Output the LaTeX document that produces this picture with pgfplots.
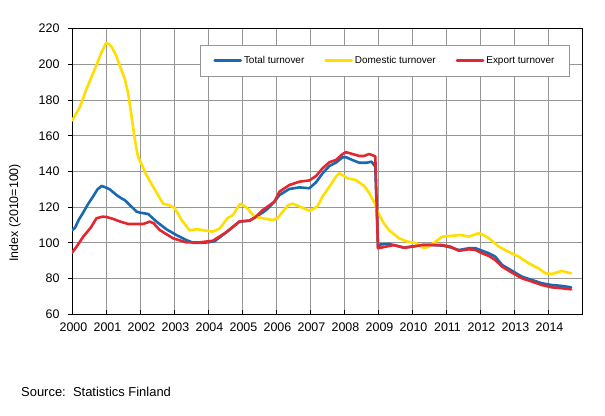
\documentclass[border=0pt]{standalone}
\usepackage{pgfplots}
\pgfplotsset{compat=1.18}
\usepackage{fontspec}
\setmainfont{Liberation Sans}

\definecolor{totalblue}{RGB}{24,104,178}
\definecolor{domyellow}{RGB}{255,222,0}
\definecolor{expred}{RGB}{225,40,48}
\definecolor{gridgray}{RGB}{150,150,150}

\begin{document}
\begin{tikzpicture}
\useasboundingbox (0,0) rectangle (605bp,416bp);

\begin{axis}[
at={(72bp,101.7bp)},
anchor=south west,
scale only axis,
width=510bp,
height=285.6bp,
xmin=2000, xmax=2015,
ymin=60, ymax=220,
xtick={2000,2001,...,2014},
ytick={60,80,...,220},
xmajorgrids,
ymajorgrids,
grid style={gridgray, line width=0.8bp},
axis line style={black, line width=0.8bp},
xtick pos=bottom,
ytick pos=left,
xtick align=inside,
ytick align=outside,
major tick length=4bp,
tick style={black, line width=0.8bp},
/pgf/number format/1000 sep={},
/pgf/number format/assume math mode=true,
tick label style={font=\fontsize{12.5}{14}\selectfont},
xticklabel style={yshift=-5bp, xshift=1.5bp},
yticklabel style={xshift=-5bp},
ylabel={Index (2010=100)},
ylabel style={at={(axis description cs:-0.112,0.355)}, anchor=center, font=\fontsize{12.5}{14}\selectfont},
legend columns=3,
legend style={at={(axis description cs:0.251,0.943)}, anchor=north west,
  draw=gridgray, line width=0.8bp, fill=white,
  font=\fontsize{10}{12}\selectfont,
  inner xsep=13bp, inner ysep=9bp,
  /tikz/every even column/.append style={column sep=18bp}},
legend image code/.code={\draw[#1, line width=2.6bp] (0bp,0bp) -- (26bp,0bp);},
every axis plot/.append style={line width=2.6bp, line join=round, line cap=round},
]

\addplot[color=totalblue] coordinates {
(2000.00,107) (2000.09,108.5) (2000.20,113) (2000.33,117) (2000.48,122)
(2000.62,126) (2000.75,130) (2000.87,131.9) (2001.00,131) (2001.11,130)
(2001.31,126.8) (2001.45,125) (2001.55,124) (2001.75,120.3) (2001.90,117.5)
(2001.99,117) (2002.24,116.2) (2002.48,112) (2002.78,107.6) (2003.07,104.4)
(2003.36,101.6) (2003.56,100.1) (2003.75,100) (2004.00,100.3) (2004.20,101)
(2004.54,106) (2004.93,112) (2005.22,112.5) (2005.40,114.5) (2005.61,117)
(2005.71,118.4) (2005.95,123) (2006.10,126.8) (2006.39,130.2) (2006.69,131.1)
(2006.98,130.6) (2007.18,134) (2007.37,139) (2007.57,143.1) (2007.76,144.9)
(2007.96,148) (2008.06,148) (2008.25,146.4) (2008.45,144.9) (2008.66,144.9)
(2008.81,145.5) (2008.92,142.7) (2009.00,97.5) (2009.08,99.2) (2009.33,99.4)
(2009.77,97.3) (2010.01,98) (2010.30,98.8) (2010.60,98.8) (2010.89,98.5)
(2011.13,97.5) (2011.38,96) (2011.67,97) (2011.87,97) (2012.06,95.6)
(2012.26,94.2) (2012.45,92.3) (2012.65,87.6) (2012.94,84.4) (2013.23,81.1)
(2013.53,79.2) (2013.82,77.4) (2014.11,76.4) (2014.41,75.9) (2014.68,75.1)
};
\addlegendentry{Total turnover}

\addplot[color=domyellow] coordinates {
(2000.00,168.5) (2000.08,171) (2000.23,176) (2000.40,185) (2000.53,191)
(2000.72,199.6) (2000.85,206) (2001.00,212) (2001.08,211.5) (2001.16,210)
(2001.30,205) (2001.41,199) (2001.55,192) (2001.65,184) (2001.75,171)
(2001.85,157.6) (2001.94,148.3) (2002.05,144) (2002.19,138) (2002.43,130)
(2002.68,122) (2002.87,121) (2003.02,119.5) (2003.22,113) (2003.46,107)
(2003.60,107.5) (2003.70,107.6) (2003.90,107) (2004.14,106.3) (2004.34,108)
(2004.50,112) (2004.58,114) (2004.73,115.6) (2004.88,120) (2004.95,122)
(2005.12,120) (2005.37,114.7) (2005.61,113.8) (2005.90,112.8) (2006.05,114)
(2006.20,117.5) (2006.35,121) (2006.49,122) (2006.74,120) (2006.98,118)
(2007.10,119) (2007.22,120.5) (2007.37,126) (2007.57,131.5) (2007.76,137)
(2007.86,139) (2008.00,137.5) (2008.10,136.2) (2008.35,135.2) (2008.59,132)
(2008.74,128) (2008.91,122) (2009.00,117) (2009.17,111) (2009.33,107)
(2009.62,102.6) (2009.86,100.7) (2010.11,100) (2010.35,97) (2010.50,98)
(2010.69,100.7) (2010.89,103.5) (2011.18,104) (2011.43,104.4) (2011.67,103.5)
(2011.96,105.4) (2012.10,104.5) (2012.26,102.6) (2012.55,98) (2012.84,95)
(2013.14,92.3) (2013.43,88.6) (2013.72,85.8) (2013.92,83) (2014.11,82.6)
(2014.41,84.3) (2014.55,83.5) (2014.68,83)
};
\addlegendentry{Domestic turnover}

\addplot[color=expred] coordinates {
(2000.00,94.5) (2000.14,98) (2000.33,103.5) (2000.55,108.5) (2000.72,113.8)
(2000.90,114.7) (2001.02,114.5) (2001.20,113.5) (2001.41,112) (2001.65,110.6)
(2002.09,110.6) (2002.29,111.9) (2002.40,111) (2002.58,107.2) (2002.97,102.6)
(2003.36,100.3) (2003.75,100.3) (2004.14,101.2) (2004.54,106) (2004.93,112)
(2005.22,112.4) (2005.40,114.5) (2005.61,118.4) (2005.95,123) (2006.10,128.7)
(2006.39,132.4) (2006.69,134.3) (2006.98,135) (2007.18,137.5) (2007.37,141.8)
(2007.57,145.2) (2007.76,146.4) (2007.96,149.8) (2008.06,150.8) (2008.25,149.8)
(2008.45,148.7) (2008.59,148.7) (2008.74,149.8) (2008.92,148.5) (2009.00,97)
(2009.23,97.9) (2009.47,98.8) (2009.77,97.3) (2010.01,97.9) (2010.30,98.8)
(2010.60,98.8) (2010.89,98.8) (2011.13,97.9) (2011.38,95.6) (2011.67,96.4)
(2011.87,96) (2012.06,94.2) (2012.26,92.7) (2012.45,90.4) (2012.65,86.7)
(2012.94,83.3) (2013.23,80.2) (2013.53,78.3) (2013.82,76.4) (2014.11,75.1)
(2014.41,74.6) (2014.68,74)
};
\addlegendentry{Export turnover}

\end{axis}

\node[anchor=west, inner sep=0pt, font=\fontsize{13}{15}\selectfont] at (21bp,24.3bp) {Source:\ \ Statistics Finland};
\end{tikzpicture}
\end{document}
